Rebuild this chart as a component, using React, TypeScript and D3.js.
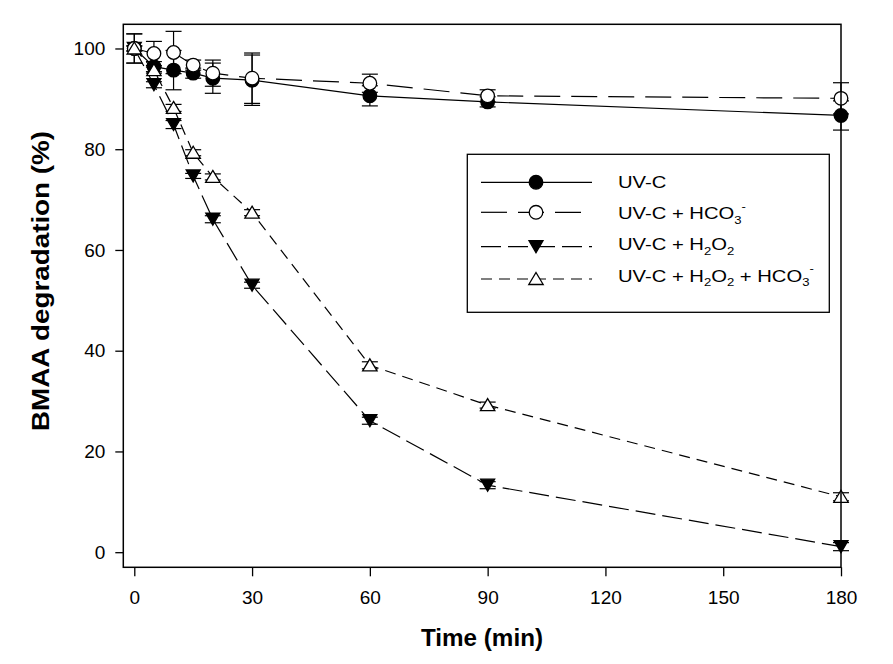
import React, { useEffect, useRef } from "react";
import * as d3 from "d3";

// ---- Data ----
const times = [0, 5, 10, 15, 20, 30, 60, 90, 180];
const uvc = [100, 96.4, 95.7, 95.1, 94.1, 93.7, 90.6, 89.4, 86.7];
const uvcErr = [2.9, 1.0, 3.9, 1.0, 3.0, 5.0, 2.0, 1.0, 2.9];
const uvcHco3 = [100, 99.0, 99.2, 96.7, 95.1, 94.1, 93.1, 90.6, 90.1];
const uvcHco3Err = [2.9, 2.4, 4.2, 1.0, 2.6, 5.0, 1.8, 1.2, 3.1];
const uvcH2o2 = [100, 92.8, 84.9, 74.7, 66.1, 53.0, 26.1, 13.3, 1.1];
const uvcH2o2Err = [0.5, 0.6, 0.8, 0.5, 0.7, 0.6, 0.7, 0.7, 0.8];
const uvcH2o2Hco3 = [100, 95.7, 88.2, 79.3, 74.5, 67.4, 37.1, 29.2, 11.0];
const uvcH2o2Hco3Err = [0.5, 0.6, 0.7, 0.6, 0.6, 0.6, 0.7, 0.6, 0.8];

const xTicks = [0, 30, 60, 90, 120, 150, 180];
const yTicks = [0, 20, 40, 60, 80, 100];

type Marker = "circleFilled" | "circleOpen" | "triDownFilled" | "triUpOpen";
const series: { name: string; values: number[]; err: number[]; marker: Marker; dash: string | null }[] = [
  { name: "UV-C", values: uvc, err: uvcErr, marker: "circleFilled", dash: null },
  { name: "UV-C + HCO3-", values: uvcHco3, err: uvcHco3Err, marker: "circleOpen", dash: "26,11" },
  { name: "UV-C + H2O2", values: uvcH2o2, err: uvcH2o2Err, marker: "triDownFilled", dash: "20,7" },
  { name: "UV-C + H2O2 + HCO3-", values: uvcH2o2Hco3, err: uvcH2o2Hco3Err, marker: "triUpOpen", dash: "11,7" },
];
// drawing order of markers (bottom to top)
const markerOrder = [2, 0, 1, 3];

const FONT = "'Liberation Sans', Arial, Helvetica, sans-serif";
const W = 893;
const H = 664;
const L = 123.3, R = 841, T = 24.3, B = 567.3;

const x = d3.scaleLinear().domain([-2.8, 180]).range([L, R]);
const y = d3.scaleLinear().domain([-3, 104.8]).range([B, T]);

function MarkerShape({ type, cx, cy }: { type: Marker; cx: number; cy: number }) {
  const sw = 1.3;
  if (type === "circleFilled") return <circle cx={cx} cy={cy} r={6.8} fill="#000" stroke="#000" strokeWidth={sw} />;
  if (type === "circleOpen") return <circle cx={cx} cy={cy} r={6.8} fill="#fff" stroke="#000" strokeWidth={sw} />;
  if (type === "triDownFilled")
    return <path d={`M${cx - 7},${cy - 6}L${cx + 7},${cy - 6}L${cx},${cy + 6}Z`} fill="#000" stroke="#000" strokeWidth={sw} strokeLinejoin="miter" />;
  return <path d={`M${cx},${cy - 6.5}L${cx + 7.2},${cy + 5.5}L${cx - 7.2},${cy + 5.5}Z`} fill="#fff" stroke="#000" strokeWidth={sw} strokeLinejoin="miter" />;
}

export default function App() {
  const xAxisRef = useRef<SVGGElement>(null);
  const yAxisRef = useRef<SVGGElement>(null);

  useEffect(() => {
    if (xAxisRef.current) {
      const g = d3.select(xAxisRef.current);
      g.call(d3.axisBottom(x).tickValues(xTicks).tickSize(9).tickSizeOuter(0).tickPadding(14).tickFormat(d3.format("d")) as any);
      g.select(".domain").remove();
      g.selectAll("line").attr("stroke", "#000").attr("stroke-width", 1.3);
      g.selectAll("text").attr("font-family", FONT).attr("font-size", 19).attr("fill", "#000");
    }
    if (yAxisRef.current) {
      const g = d3.select(yAxisRef.current);
      g.call(d3.axisLeft(y).tickValues(yTicks).tickSize(8).tickSizeOuter(0).tickPadding(10).tickFormat(d3.format("d")) as any);
      g.select(".domain").remove();
      g.selectAll("line").attr("stroke", "#000").attr("stroke-width", 1.3);
      g.selectAll("text").attr("font-family", FONT).attr("font-size", 19).attr("fill", "#000");
    }
  }, []);

  const line = d3
    .line<number>()
    .x((_, i) => x(times[i]))
    .y((d) => y(d));

  const capW = 8;

  // legend layout
  const legX = 467.3, legY = 154.3, legW = 362, legH = 158;
  const lineRowY = [182.3, 212.3, 246.7, 279];
  const textBase = [188, 219, 250, 281.7];
  const lx0 = 481, lx1 = 592, lmx = 536, tx = 618;
  const sx = 1.19;

  const sub = { fontSize: 11 };

  return (
    <svg width={W} height={H} style={{ position: "absolute", left: 0, top: 0, background: "#fff" }} fontFamily={FONT}>
      <rect x={0} y={0} width={W} height={H} fill="#fff" />
      {/* lines */}
      {series.map((s) => (
        <path
          key={"l" + s.name}
          d={line(s.values) || ""}
          fill="none"
          stroke="#000"
          strokeWidth={1.2}
          strokeDasharray={s.dash || undefined}
        />
      ))}
      {/* error bars */}
      {series.map((s) =>
        s.values.map((v, i) => {
          const cx = x(times[i]);
          const y1 = y(v + s.err[i]);
          const y2 = y(v - s.err[i]);
          return (
            <g key={"e" + s.name + i} stroke="#000" strokeWidth={1.2}>
              <line x1={cx} x2={cx} y1={y1} y2={y2} />
              <line x1={cx - capW} x2={cx + capW} y1={y1} y2={y1} />
              <line x1={cx - capW} x2={cx + capW} y1={y2} y2={y2} />
            </g>
          );
        })
      )}
      {/* markers */}
      {markerOrder.map((si) => {
        const s = series[si];
        return s.values.map((v, i) => <MarkerShape key={"m" + s.name + i} type={s.marker} cx={x(times[i])} cy={y(v)} />);
      })}
      {/* frame */}
      <rect x={L} y={T} width={R - L} height={B - T} fill="none" stroke="#000" strokeWidth={1.5} />
      <g ref={xAxisRef} transform={`translate(0,${B})`} />
      <g ref={yAxisRef} transform={`translate(${L},0)`} />

      {/* axis titles */}
      <text x={482} y={646} textAnchor="middle" fontSize={23} fontWeight="bold" fill="#000" textLength={122} lengthAdjust="spacingAndGlyphs">
        Time (min)
      </text>
      <text
        transform={`translate(48.5,281) rotate(-90)`}
        textAnchor="middle"
        fontSize={23}
        fontWeight="bold"
        fill="#000"
        textLength={300}
        lengthAdjust="spacingAndGlyphs"
      >
        BMAA degradation (%)
      </text>

      {/* legend */}
      <rect x={legX} y={legY} width={legW} height={legH} fill="#fff" stroke="#000" strokeWidth={1.3} />
      {series.map((s, i) => (
        <g key={"lg" + s.name}>
          <line x1={lx0} x2={lx1} y1={lineRowY[i]} y2={lineRowY[i]} stroke="#000" strokeWidth={1.2} strokeDasharray={s.dash || undefined} />
          <MarkerShape type={s.marker} cx={lmx} cy={lineRowY[i]} />
        </g>
      ))}
      <g fontSize={17} fill="#000">
        <text transform={`translate(${tx},${textBase[0]}) scale(${sx},1)`}>UV-C</text>
        <text transform={`translate(${tx},${textBase[1]}) scale(${sx},1)`}>
          UV-C + HCO
          <tspan {...sub} dy={4.5}>3</tspan>
          <tspan {...sub} dy={-14}>-</tspan>
        </text>
        <text transform={`translate(${tx},${textBase[2]}) scale(${sx},1)`}>
          UV-C + H
          <tspan {...sub} dy={4.5}>2</tspan>
          <tspan dy={-4.5}>O</tspan>
          <tspan {...sub} dy={4.5}>2</tspan>
        </text>
        <text transform={`translate(${tx},${textBase[3]}) scale(${sx},1)`}>
          UV-C + H
          <tspan {...sub} dy={4.5}>2</tspan>
          <tspan dy={-4.5}>O</tspan>
          <tspan {...sub} dy={4.5}>2</tspan>
          <tspan dy={-4.5}> + HCO</tspan>
          <tspan {...sub} dy={4.5}>3</tspan>
          <tspan {...sub} dy={-14}>-</tspan>
        </text>
      </g>
    </svg>
  );
}
